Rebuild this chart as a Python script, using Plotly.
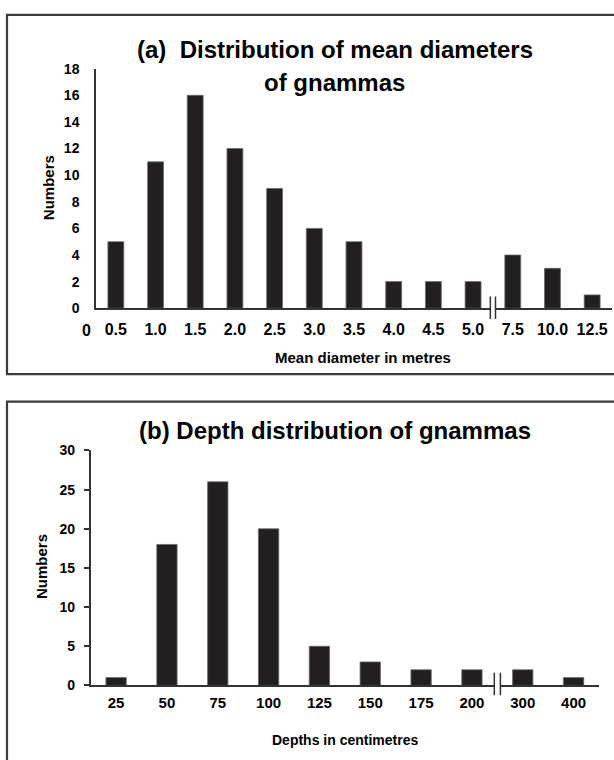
import plotly.graph_objects as go

# ---- data ----
diam_labels = ["0.5", "1.0", "1.5", "2.0", "2.5", "3.0", "3.5", "4.0", "4.5", "5.0", "7.5", "10.0", "12.5"]
diam_counts = [5, 11, 16, 12, 9, 6, 5, 2, 2, 2, 4, 3, 1]
depth_labels = ["25", "50", "75", "100", "125", "150", "175", "200", "300", "400"]
depth_counts = [1, 18, 26, 20, 5, 3, 2, 2, 2, 1]
diam_yticks = list(range(0, 19, 2))
depth_yticks = list(range(0, 31, 5))

W, H = 614, 760
BAR = "#231f20"
AX = "#333333"
FONT = "Liberation Sans, Arial, sans-serif"

def px_x(p):
    return p / W

def px_y(p):
    return 1 - p / H

fig = go.Figure()
fig.add_trace(go.Bar(x=diam_labels, y=diam_counts, marker=dict(color=BAR, line=dict(color="#6a6a6a", width=0.8)),
                     xaxis="x", yaxis="y", showlegend=False))
fig.add_trace(go.Bar(x=depth_labels, y=depth_counts, marker=dict(color=BAR, line=dict(color="#6a6a6a", width=0.8)),
                     xaxis="x2", yaxis="y2", showlegend=False))

top_dom_x = [px_x(96), px_x(612)]
top_dom_y = [px_y(306.7), px_y(62)]
bot_dom_x = [px_x(90.7), px_x(599)]
bot_dom_y = [px_y(692), px_y(452)]

tickfont = dict(family=FONT, size=16, color="black", weight="bold")
btickfont = dict(family=FONT, size=15, color="black", weight="bold")
ytickfont = dict(family=FONT, size=14, color="black", weight="bold")

fig.update_layout(
    width=W, height=H,
    margin=dict(l=0, r=0, t=0, b=0),
    paper_bgcolor="white", plot_bgcolor="white",
    bargap=0.6,
    font=dict(family=FONT, color="black"),
    xaxis=dict(domain=top_dom_x, anchor="y", type="category", range=[-0.5, len(diam_labels) - 0.5],
               showline=True, linecolor=AX, linewidth=1.5, showgrid=False, ticks="",
               tickfont=tickfont, ticklabelstandoff=6),
    yaxis=dict(domain=top_dom_y, anchor="x", range=[0, 18], tickvals=diam_yticks,
               showline=True, linecolor=AX, linewidth=1.5, showgrid=False, ticks="",
               tickfont=ytickfont, ticklabelstandoff=12, zeroline=False),
    xaxis2=dict(domain=bot_dom_x, anchor="y2", type="category", range=[-0.5, len(depth_labels) - 0.5],
                showline=True, linecolor=AX, linewidth=1.5, showgrid=False, ticks="",
                tickfont=btickfont, ticklabelstandoff=3),
    yaxis2=dict(domain=bot_dom_y, anchor="x2", range=[0, 30], tickvals=depth_yticks,
                showline=True, linecolor=AX, linewidth=1.5, showgrid=False, ticks="outside",
                ticklen=5, tickwidth=1.5, tickcolor=AX,
                tickfont=ytickfont, ticklabelstandoff=6, zeroline=False),
)

shapes = []
# panel frames
shapes.append(dict(type="rect", xref="paper", yref="paper", x0=px_x(7), x1=px_x(640),
                   y0=px_y(374), y1=px_y(7), line=dict(color="#3a3a3a", width=2.2), layer="below"))
shapes.append(dict(type="rect", xref="paper", yref="paper", x0=px_x(7), x1=px_x(640),
                   y0=px_y(800), y1=px_y(402), line=dict(color="#3a3a3a", width=2.2), layer="below"))

# axis break symbols
def add_break(xref, xc, half, y_axis_px, up, down):
    shapes.append(dict(type="rect", xref=xref, yref="paper", x0=xc - half, x1=xc + half,
                       y0=px_y(y_axis_px + 2), y1=px_y(y_axis_px - 2),
                       fillcolor="white", line=dict(width=0), layer="above"))
    for s in (-1, 1):
        shapes.append(dict(type="line", xref=xref, yref="paper", x0=xc + s * half, x1=xc + s * half,
                           y0=px_y(y_axis_px + down), y1=px_y(y_axis_px - up),
                           line=dict(color=AX, width=1.5), layer="above"))

add_break("x", 9.5, 0.065, 306.7, 12, 11)
add_break("x2", 7.5, 0.06, 692, 13, 10)
fig.update_layout(shapes=shapes)

ann = []
title_font = dict(family=FONT, size=24, color="black", weight="bold")
ann.append(dict(text="(a)\u00a0 Distribution of mean diameters", x=px_x(335), y=px_y(42),
                xref="paper", yref="paper", showarrow=False, font=title_font, xanchor="center", yanchor="middle"))
ann.append(dict(text="of gnammas", x=px_x(334), y=px_y(76),
                xref="paper", yref="paper", showarrow=False, font=title_font, xanchor="center", yanchor="middle"))
ann.append(dict(text="(b) Depth distribution of gnammas", x=px_x(335), y=px_y(432),
                xref="paper", yref="paper", showarrow=False, font=title_font, xanchor="center", yanchor="middle"))
axt = dict(family=FONT, size=15, color="black", weight="bold")
ann.append(dict(text="Mean diameter in metres", x=px_x(363), y=px_y(357),
                xref="paper", yref="paper", showarrow=False, font=axt, xanchor="center", yanchor="middle"))
ann.append(dict(text="Depths in centimetres", x=px_x(345), y=px_y(748),
                xref="paper", yref="paper", showarrow=False, font=dict(family=FONT, size=14, color="black", weight="bold"),
                xanchor="center", yanchor="middle"))
ann.append(dict(text="Numbers", x=px_x(48), y=px_y(183), textangle=-90,
                xref="paper", yref="paper", showarrow=False, font=axt, xanchor="center", yanchor="middle"))
ann.append(dict(text="Numbers", x=px_x(42), y=px_y(571), textangle=-90,
                xref="paper", yref="paper", showarrow=False, font=axt, xanchor="center", yanchor="middle"))
# stray origin label "0" on the category axis
ann.append(dict(text="0", x=px_x(86), y=px_y(329),
                xref="paper", yref="paper", showarrow=False, font=tickfont, xanchor="center", yanchor="middle"))
fig.update_layout(annotations=ann)

post = ("document.documentElement.style.margin='0';document.body.style.margin='0';"
        "document.documentElement.style.overflow='hidden';document.body.style.overflow='hidden';"
        "var d=document.getElementById('{plot_id}');d.style.position='fixed';d.style.top='0px';d.style.left='0px';")
fig.write_html("out.html", config={"displayModeBar": False}, post_script=post)
